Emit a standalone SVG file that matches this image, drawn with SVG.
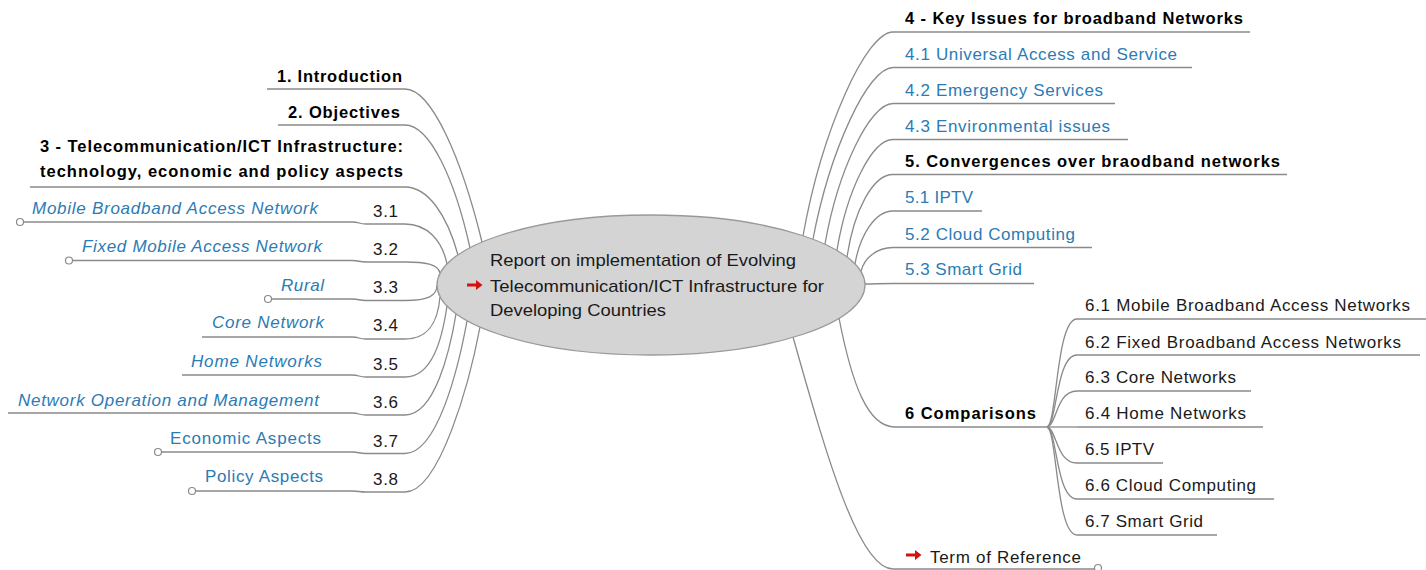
<svg xmlns="http://www.w3.org/2000/svg" width="1426" height="570" viewBox="0 0 1426 570">
<style>
text{font-family:"Liberation Sans",Arial,sans-serif;font-size:17px;fill:#1a1a1a}
.b{font-weight:bold;font-size:16.5px;fill:#000}
.bl{fill:#2b7bb5}
.it{font-style:italic}
.c{fill:none;stroke:#8a8a8a;stroke-width:1.3}
.ul{stroke:#8a8a8a;stroke-width:1.3}
.dot{fill:#fff;stroke:#8a8a8a;stroke-width:1.2}
.arr{fill:#d41010}
</style>
<rect width="1426" height="570" fill="#fff"/>
<g id="connectors">
<path class="c" d="M405 89 C432 89,462 160,482 242"/>
<path class="c" d="M405 125 C430 125,455 180,470 248"/>
<path class="c" d="M405 187 C428 187,447 215,458 255"/>
<path class="c" d="M405 224 C427 224,442 240,447 264"/>
<path class="c" d="M405 262 C425 262,438 264,440 273"/>
<path class="c" d="M405 300.5 C428 300.5,437 296,437 285"/>
<path class="c" d="M405 339 C430 339,438 320,440 297"/>
<path class="c" d="M405 377 C432 377,442 340,447 306"/>
<path class="c" d="M405 415 C435 415,450 350,456 314"/>
<path class="c" d="M405 453.5 C437 453.5,458 370,467 321"/>
<path class="c" d="M405 492 C440 492,470 380,480 327"/>
<path class="c" d="M352 222 C360 222,358 224,366 224"/>
<path class="c" d="M352 260.5 C360 260.5,358 262,366 262"/>
<path class="c" d="M352 299 C360 299,358 300.5,366 300.5"/>
<path class="c" d="M352 337 C360 337,358 339,366 339"/>
<path class="c" d="M352 375 C360 375,358 377,366 377"/>
<path class="c" d="M352 413 C360 413,358 415,366 415"/>
<path class="c" d="M352 452 C360 452,358 453.5,366 453.5"/>
<path class="c" d="M352 491 C360 491,358 492,366 492"/>
<path class="c" d="M893 32 C866 32,822 130,803 236"/>
<path class="c" d="M893 67.5 C868 67.5,830 150,813 239"/>
<path class="c" d="M893 103.5 C870 103.5,838 170,825 244"/>
<path class="c" d="M893 139.5 C872 139.5,847 190,837 250"/>
<path class="c" d="M893 174.5 C873 174.5,854 210,847 257"/>
<path class="c" d="M893 211 C875 211,860 235,855 264"/>
<path class="c" d="M893 247.5 C877 247.5,864 258,861 271.5"/>
<path class="c" d="M893 283.5 C880 283.5,875 284,865 284"/>
<path class="c" d="M839 318 C852 385,868 427,895 427"/>
<path class="c" d="M793 337 C825 450,858 569,893 569"/>
<path class="c" d="M1047 427 C1057 425,1056 319,1077 319"/>
<path class="c" d="M1047 427 C1057 425,1056 355,1077 355"/>
<path class="c" d="M1047 427 C1057 425,1056 391,1077 391"/>
<path class="c" d="M1047 427 L1077 427"/>
<path class="c" d="M1047 427 C1057 429,1056 463,1077 463"/>
<path class="c" d="M1047 427 C1057 429,1056 499,1077 499"/>
<path class="c" d="M1047 427 C1057 429,1056 535,1077 535"/>
</g>
<g id="center">
<ellipse cx="651" cy="285" rx="214" ry="70" fill="#d4d4d4" stroke="#999" stroke-width="1.3"/>
<path class="arr" d="M467 283.5 H476 V280 L482.5 285 L476 290 V286.5 H467 Z"/>
<text x="490" y="266" textLength="306" lengthAdjust="spacingAndGlyphs">Report on implementation of Evolving</text>
<text x="490" y="291.5" textLength="334" lengthAdjust="spacingAndGlyphs">Telecommunication/ICT Infrastructure for</text>
<text x="490" y="316" textLength="176" lengthAdjust="spacingAndGlyphs">Developing Countries</text>
</g>
<g id="n1"><line class="ul" x1="267" y1="89" x2="405" y2="89"/><text class="b" x="277" y="81.5" textLength="125">1. Introduction</text></g>
<g id="n2"><line class="ul" x1="278" y1="125" x2="405" y2="125"/><text class="b" x="288" y="117.5" textLength="112">2. Objectives</text></g>
<g id="n3"><line class="ul" x1="30" y1="187" x2="405" y2="187"/><text class="b" x="40" y="152" textLength="363">3 - Telecommunication/ICT Infrastructure:</text><text class="b" x="40" y="177" textLength="363">technology, economic and policy aspects</text></g>
<g id="n3-1"><line class="ul" x1="366" y1="224" x2="405" y2="224"/><text x="373" y="217" textLength="25">3.1</text></g>
<g id="n3-1a"><line class="ul" x1="23.5" y1="222" x2="352" y2="222"/><circle class="dot" cx="20" cy="222" r="3.5"/><text class="bl it" x="32" y="214" textLength="286">Mobile Broadband Access Network</text></g>
<g id="n3-2"><line class="ul" x1="366" y1="262" x2="405" y2="262"/><text x="373" y="255" textLength="25">3.2</text></g>
<g id="n3-2a"><line class="ul" x1="72.5" y1="260.5" x2="352" y2="260.5"/><circle class="dot" cx="69" cy="260.5" r="3.5"/><text class="bl it" x="82" y="252" textLength="240">Fixed Mobile Access Network</text></g>
<g id="n3-3"><line class="ul" x1="366" y1="300.5" x2="405" y2="300.5"/><text x="373" y="293" textLength="25">3.3</text></g>
<g id="n3-3a"><line class="ul" x1="271.5" y1="299" x2="352" y2="299"/><circle class="dot" cx="268" cy="299" r="3.5"/><text class="bl it" x="281" y="290.5" textLength="43">Rural</text></g>
<g id="n3-4"><line class="ul" x1="366" y1="339" x2="405" y2="339"/><text x="373" y="331" textLength="25">3.4</text></g>
<g id="n3-4a"><line class="ul" x1="202" y1="337" x2="352" y2="337"/><text class="bl it" x="212" y="328" textLength="112">Core Network</text></g>
<g id="n3-5"><line class="ul" x1="366" y1="377" x2="405" y2="377"/><text x="373" y="370" textLength="25">3.5</text></g>
<g id="n3-5a"><line class="ul" x1="182" y1="375" x2="352" y2="375"/><text class="bl it" x="191" y="367" textLength="131">Home Networks</text></g>
<g id="n3-6"><line class="ul" x1="366" y1="415" x2="405" y2="415"/><text x="373" y="408" textLength="25">3.6</text></g>
<g id="n3-6a"><line class="ul" x1="8" y1="413" x2="352" y2="413"/><text class="bl it" x="18" y="405.5" textLength="301">Network Operation and Management</text></g>
<g id="n3-7"><line class="ul" x1="366" y1="453.5" x2="405" y2="453.5"/><text x="373" y="447" textLength="25">3.7</text></g>
<g id="n3-7a"><line class="ul" x1="161.5" y1="452" x2="352" y2="452"/><circle class="dot" cx="158" cy="452" r="3.5"/><text class="bl" x="170" y="444" textLength="151">Economic Aspects</text></g>
<g id="n3-8"><line class="ul" x1="366" y1="492" x2="405" y2="492"/><text x="373" y="485" textLength="25">3.8</text></g>
<g id="n3-8a"><line class="ul" x1="195.5" y1="491" x2="352" y2="491"/><circle class="dot" cx="192" cy="491" r="3.5"/><text class="bl" x="205" y="482" textLength="118">Policy Aspects</text></g>
<g id="n4"><line class="ul" x1="893" y1="32" x2="1250" y2="32"/><text class="b" x="905" y="24" textLength="338">4 - Key Issues for broadband Networks</text></g>
<g id="n4-1"><line class="ul" x1="893" y1="67.5" x2="1192" y2="67.5"/><text class="bl" x="905" y="60" textLength="272">4.1 Universal Access and Service</text></g>
<g id="n4-2"><line class="ul" x1="893" y1="103.5" x2="1115" y2="103.5"/><text class="bl" x="905" y="96" textLength="198">4.2 Emergency Services</text></g>
<g id="n4-3"><line class="ul" x1="893" y1="139.5" x2="1128" y2="139.5"/><text class="bl" x="905" y="132" textLength="205">4.3 Environmental issues</text></g>
<g id="n5"><line class="ul" x1="893" y1="174.5" x2="1287" y2="174.5"/><text class="b" x="905" y="167" textLength="375">5. Convergences over braodband networks</text></g>
<g id="n5-1"><line class="ul" x1="893" y1="211" x2="982" y2="211"/><text class="bl" x="905" y="203" textLength="68">5.1 IPTV</text></g>
<g id="n5-2"><line class="ul" x1="893" y1="247.5" x2="1092" y2="247.5"/><text class="bl" x="905" y="239.5" textLength="170">5.2 Cloud Computing</text></g>
<g id="n5-3"><line class="ul" x1="893" y1="283.5" x2="1034" y2="283.5"/><text class="bl" x="905" y="275" textLength="117">5.3 Smart Grid</text></g>
<g id="n6"><line class="ul" x1="895" y1="427" x2="1047" y2="427"/><text class="b" x="905" y="418.5" textLength="131">6 Comparisons</text></g>
<g id="n6-1"><line class="ul" x1="1077" y1="319" x2="1426" y2="319"/><text x="1085" y="311" textLength="325">6.1 Mobile Broadband Access Networks</text></g>
<g id="n6-2"><line class="ul" x1="1077" y1="355" x2="1420" y2="355"/><text x="1085" y="347.5" textLength="316">6.2 Fixed Broadband Access Networks</text></g>
<g id="n6-3"><line class="ul" x1="1077" y1="391" x2="1251" y2="391"/><text x="1085" y="383" textLength="151">6.3 Core Networks</text></g>
<g id="n6-4"><line class="ul" x1="1077" y1="427" x2="1263" y2="427"/><text x="1085" y="418.5" textLength="161">6.4 Home Networks</text></g>
<g id="n6-5"><line class="ul" x1="1077" y1="463" x2="1163" y2="463"/><text x="1085" y="455" textLength="69">6.5 IPTV</text></g>
<g id="n6-6"><line class="ul" x1="1077" y1="499" x2="1274" y2="499"/><text x="1085" y="491" textLength="171">6.6 Cloud Computing</text></g>
<g id="n6-7"><line class="ul" x1="1077" y1="535" x2="1217" y2="535"/><text x="1085" y="527" textLength="118">6.7 Smart Grid</text></g>
<g id="nref"><line class="ul" x1="893" y1="569" x2="1094.5" y2="569"/><circle class="dot" cx="1098" cy="568" r="3.5"/><path class="arr" d="M906 553.5 H915 V550 L921.5 555 L915 560 V556.5 H906 Z"/><text x="930" y="563" textLength="151">Term of Reference</text></g>
</svg>
